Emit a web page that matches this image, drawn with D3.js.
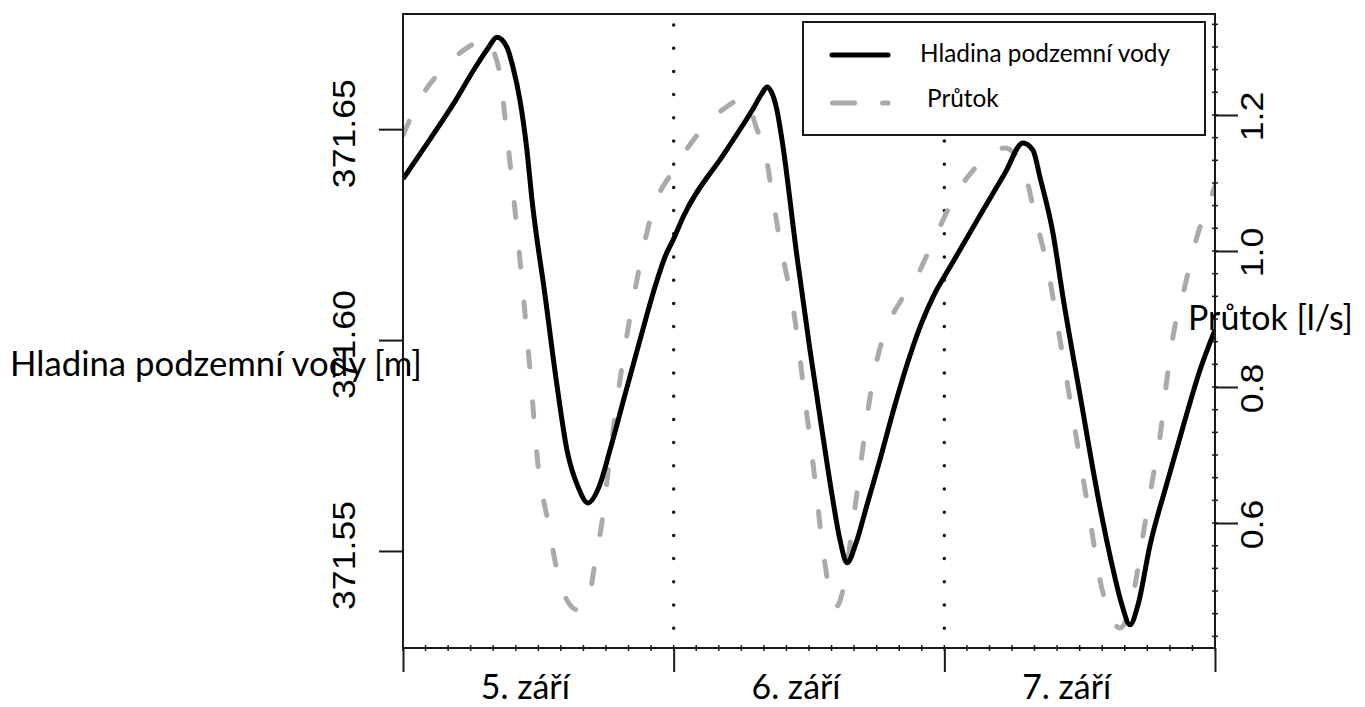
<!DOCTYPE html>
<html>
<head>
<meta charset="utf-8">
<script src="https://cdn.jsdelivr.net/npm/d3@7"></script>
<style>
  body { margin: 0; background: #fff; }
</style>
</head>
<body>
<div id="chart"></div>
<script>
// groundwater level (left axis), hours from 5. září 00:00
var hoursLevel = [0, 2.39, 4.61, 6.38, 7.54, 8.33, 9.22, 9.75, 10.37, 10.99, 11.44, 12.59, 13.65, 14.54, 15.52, 16.40,
  17.38, 18.35, 19.68, 21.01, 22.34, 23.23, 24.03, 24.83, 28.55, 31.12, 31.83, 32.28, 32.63, 33.16, 33.61, 34.94,
  36.09, 37.15, 38.04, 38.75, 39.37, 40.17, 41.14, 42.29, 43.62, 44.96, 46.02, 46.99, 48.50, 51.43, 53.38, 54.97,
  55.86, 56.48, 57.63, 58.52, 60.03, 61.80, 62.87, 63.75, 64.46, 65.17, 66.24, 67.74, 69.16, 70.67, 72.00];
var level = [371.6382, 371.6476, 371.6566, 371.6645, 371.6692, 371.6718, 371.6694, 371.6647, 371.6569, 371.6450, 371.6332,
  371.6107, 371.5893, 371.5739, 371.5652, 371.5614, 371.5652, 371.5739, 371.5870, 371.6000, 371.6126, 371.6197,
  371.6242, 371.6291, 371.6445, 371.6552, 371.6585, 371.6600, 371.6590, 371.6545, 371.6474, 371.6197, 371.5976,
  371.5787, 371.5633, 371.5526, 371.5472, 371.5519, 371.5609, 371.5716, 371.5846, 371.5964, 371.6043, 371.6102,
  371.6173, 371.6308, 371.6396, 371.6467, 371.6450, 371.6386, 371.6254, 371.6102, 371.5870, 371.5604, 371.5467,
  371.5372, 371.5325, 371.5372, 371.5514, 371.5661, 371.5794, 371.5929, 371.6024];

// discharge (right axis)
var hoursFlow = [0, 0.89, 2.13, 3.28, 5.05, 6.56, 7.36, 8.16, 8.60, 9.04, 9.49, 10.37, 11.26, 11.97, 12.86, 13.65, 14.81,
  15.52, 16.32, 17.02, 17.73, 18.27, 19.24, 20.57, 22.08, 24.12, 26.60, 28.55, 30.32, 31.48, 31.92, 32.72, 33.43,
  34.76, 35.65, 36.53, 37.24, 38.04, 38.39, 39.19, 39.81, 40.52, 41.23, 42.03, 43.00, 44.07, 45.40, 46.91, 48.95,
  51.16, 53.38, 55.06, 56.13, 57.19, 58.26, 59.59, 60.92, 61.80, 62.69, 63.58, 64.91, 65.61, 66.41, 67.12, 67.65,
  68.27, 69.33, 70.40, 71.82, 72.00];
var flow = [1.1706, 1.2029, 1.2397, 1.2632, 1.2912, 1.3074, 1.3132, 1.2882, 1.2588, 1.1971, 1.1294, 0.9868, 0.8250, 0.6853,
  0.6015, 0.5309, 0.4794, 0.4721, 0.4794, 0.5412, 0.6118, 0.6882, 0.8103, 0.9426, 1.0559, 1.1221, 1.1809, 1.2103,
  1.2250, 1.1750, 1.1603, 1.0853, 1.0132, 0.8985, 0.7809, 0.6632, 0.5603, 0.4868, 0.4765, 0.5162, 0.5897, 0.6779,
  0.7662, 0.8397, 0.8912, 0.9250, 0.9574, 1.0103, 1.0809, 1.1294, 1.1515, 1.1176, 1.0456, 0.9721, 0.8691, 0.7368,
  0.6044, 0.5162, 0.4647, 0.4456, 0.5088, 0.5809, 0.6588, 0.7265, 0.8000, 0.8735, 0.9485, 1.0206, 1.0868, 1.0956];

var dayTicks = [0, 24, 48, 72];
var dayLabels = ["5. září", "6. září", "7. září"];
var leftTicks = [371.55, 371.60, 371.65];
var rightTicks = [0.6, 0.8, 1.0, 1.2];
var legendLabels = ["Hladina podzemní vody", "Průtok"];

var svgWidth = 1365, svgHeight = 707;
var plot = { left: 403, right: 1215, top: 14, bottom: 648 };

var svg = d3.select("#chart").append("svg")
  .attr("width", svgWidth)
  .attr("height", svgHeight)
  .style("display", "block");

svg.append("rect").attr("width", svgWidth).attr("height", svgHeight).attr("fill", "#fff");

// scales
var x = d3.scaleLinear().domain([0, 72]).range([plot.left, plot.right]);
var yLeft = d3.scaleLinear().domain([371.5270, 371.6773]).range([plot.bottom, plot.top]);
var yRight = d3.scaleLinear().domain([0.4162, 1.3485]).range([plot.bottom, plot.top]);

// fit a text to a measured width by changing its font size
function fitWidth(sel, w) {
  var len = sel.node().getComputedTextLength();
  var fs = parseFloat(sel.attr("font-size"));
  sel.attr("font-size", (fs * w / len).toFixed(2));
}

// dotted day separators
svg.selectAll(".daysep")
  .data(dayTicks.slice(1, 3))
  .enter().append("line")
  .attr("x1", d => x(d)).attr("x2", d => x(d))
  .attr("y1", plot.top + 11).attr("y2", plot.bottom)
  .attr("stroke", "#111")
  .attr("stroke-width", 3.5)
  .attr("stroke-linecap", "round")
  .attr("stroke-dasharray", "0,23.2");

// lines
var flowLine = d3.line()
  .x((d, i) => x(hoursFlow[i]))
  .y(d => yRight(d))
  .curve(d3.curveMonotoneX);

var levelLine = d3.line()
  .x((d, i) => x(hoursLevel[i]))
  .y(d => yLeft(d))
  .curve(d3.curveMonotoneX);

svg.append("clipPath").attr("id", "clip")
  .append("rect")
  .attr("x", plot.left).attr("y", plot.top)
  .attr("width", plot.right - plot.left).attr("height", plot.bottom - plot.top);

var lines = svg.append("g").attr("clip-path", "url(#clip)");

lines.append("path")
  .datum(flow)
  .attr("d", flowLine)
  .attr("fill", "none")
  .attr("stroke", "#aaaaaa")
  .attr("stroke-width", 5)
  .attr("stroke-linecap", "round")
  .attr("stroke-dasharray", "15,35");

lines.append("path")
  .datum(level)
  .attr("d", levelLine)
  .attr("fill", "none")
  .attr("stroke", "#000")
  .attr("stroke-width", 5)
  .attr("stroke-linejoin", "round");

// frame
svg.append("rect")
  .attr("x", plot.left).attr("y", plot.top)
  .attr("width", plot.right - plot.left).attr("height", plot.bottom - plot.top)
  .attr("fill", "none")
  .attr("stroke", "#1a1a1a")
  .attr("stroke-width", 2);

// left axis
var leftAxis = svg.append("g")
  .attr("transform", `translate(${plot.left},0)`)
  .call(d3.axisLeft(yLeft).tickValues(leftTicks).tickSize(24).tickSizeOuter(0).tickFormat(d3.format(".2f")));

// right axis
var rightAxis = svg.append("g")
  .attr("transform", `translate(${plot.right},0)`)
  .call(d3.axisRight(yRight).tickValues(rightTicks).tickSize(23).tickSizeOuter(0).tickFormat(d3.format(".1f")));

// bottom axis
var bottomAxis = svg.append("g")
  .attr("transform", `translate(0,${plot.bottom})`)
  .call(d3.axisBottom(x).tickValues(dayTicks).tickSize(24).tickSizeOuter(0).tickFormat(""));

[leftAxis, rightAxis, bottomAxis].forEach(function(g) {
  g.select(".domain").remove();
  g.selectAll(".tick line").attr("stroke", "#1a1a1a").attr("stroke-width", 2);
});

leftAxis.selectAll(".tick text")
  .attr("x", null).attr("dy", null)
  .attr("text-anchor", "middle")
  .attr("font-family", "'Liberation Sans', Arial, sans-serif")
  .attr("font-size", 31)
  .attr("fill", "#000")
  .attr("transform", "translate(-48,4) rotate(-90) scale(1.15,1)");

rightAxis.selectAll(".tick text")
  .attr("x", null).attr("dy", null)
  .attr("text-anchor", "middle")
  .attr("font-family", "'Liberation Sans', Arial, sans-serif")
  .attr("font-size", 31)
  .attr("fill", "#000")
  .attr("transform", "translate(48,1) rotate(-90) scale(1.15,1)");

// minor ticks on the right axis and on the time axis
var rightMinor = d3.range(-5, 27).map(i => 0.6 + i * 0.2 / 6).filter(v => v > yRight.domain()[0] && v < yRight.domain()[1]);
svg.append("g").selectAll("line")
  .data(rightMinor)
  .enter().append("line")
  .attr("x1", plot.right - 3).attr("x2", plot.right + 3)
  .attr("y1", d => yRight(d)).attr("y2", d => yRight(d))
  .attr("stroke", "#1a1a1a").attr("stroke-width", 1.5);

svg.append("g").selectAll("line")
  .data(d3.range(0, 73, 2))
  .enter().append("line")
  .attr("x1", d => x(d)).attr("x2", d => x(d))
  .attr("y1", plot.bottom - 3).attr("y2", plot.bottom + 3)
  .attr("stroke", "#1a1a1a").attr("stroke-width", 1.5);

// day labels
var titleFont = "Lato, 'Open Sans', sans-serif";
svg.selectAll(".daylabel")
  .data(dayLabels)
  .enter().append("text")
  .attr("class", "daylabel")
  .attr("x", (d, i) => x(i * 24 + 12) - 13)
  .attr("y", 699)
  .attr("text-anchor", "middle")
  .attr("font-family", titleFont)
  .attr("font-size", 36)
  .attr("fill", "#000")
  .text(d => d)
  .each(function() { fitWidth(d3.select(this), 89); });

// axis titles
var leftTitle = svg.append("text")
  .attr("x", 10).attr("y", 376)
  .attr("font-family", titleFont)
  .attr("font-size", 36)
  .attr("fill", "#000")
  .text("Hladina podzemní vody [m]");
fitWidth(leftTitle, 412);

var rightTitle = svg.append("text")
  .attr("x", 1188).attr("y", 330)
  .attr("font-family", titleFont)
  .attr("font-size", 36)
  .attr("fill", "#000")
  .text("Průtok [l/s]");
fitWidth(rightTitle, 165);

// legend
var legend = svg.append("g");
legend.append("rect")
  .attr("x", 803).attr("y", 22)
  .attr("width", 402).attr("height", 113)
  .attr("fill", "#fff")
  .attr("stroke", "#1a1a1a")
  .attr("stroke-width", 2);

legend.append("line")
  .attr("x1", 832).attr("x2", 888).attr("y1", 55).attr("y2", 55)
  .attr("stroke", "#000").attr("stroke-width", 5).attr("stroke-linecap", "round");

legend.append("line")
  .attr("x1", 832.5).attr("x2", 888).attr("y1", 103).attr("y2", 103)
  .attr("stroke", "#aaaaaa").attr("stroke-width", 5).attr("stroke-linecap", "round")
  .attr("stroke-dasharray", "22,28");

var legText1 = legend.append("text")
  .attr("x", 920).attr("y", 62)
  .attr("font-family", titleFont).attr("font-size", 25).attr("fill", "#000")
  .text(legendLabels[0]);
fitWidth(legText1, 250);

legend.append("text")
  .attr("x", 927).attr("y", 107)
  .attr("font-family", titleFont).attr("font-size", legText1.attr("font-size")).attr("fill", "#000")
  .text(legendLabels[1]);
</script>
</body>
</html>
